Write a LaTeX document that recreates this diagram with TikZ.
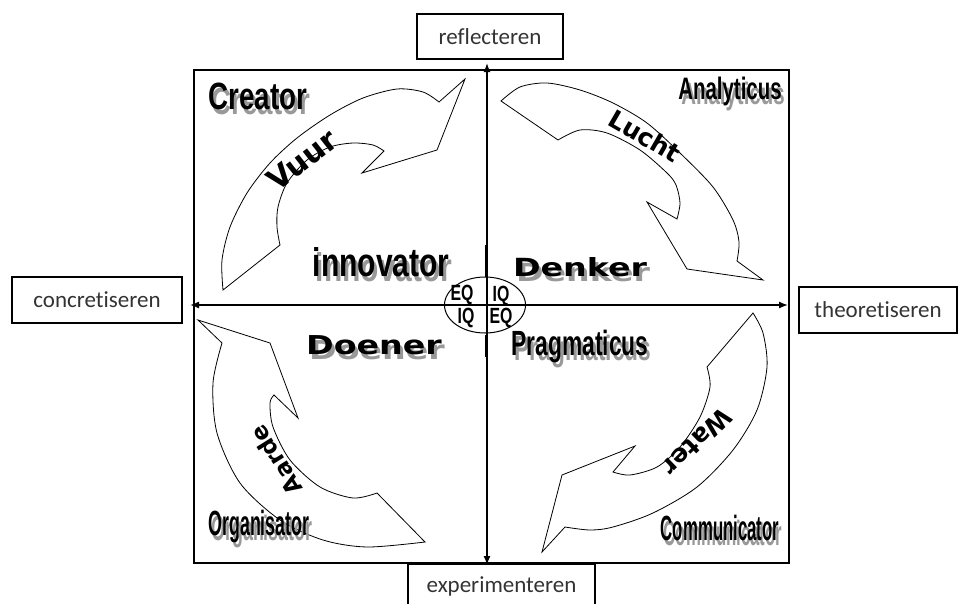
\documentclass[tikz,border=0pt]{standalone}
\usepackage{fontspec}
\usepackage{tikz}
\usetikzlibrary{calc,arrows.meta}
\setmainfont{Carlito}[Ligatures=NoCommon]
\newfontfamily\boldsans{Liberation Sans}
\newfontfamily\blacksans{DejaVu Sans}

\begin{document}
\begin{tikzpicture}[x=1pt,y=-1pt,
  quadframe/.style={line width=1.4pt},
  axisline/.style={line width=1.4pt, {Latex[length=9pt,width=7pt]}-{Latex[length=9pt,width=7pt]}},
  flow/.style={draw, line width=0.8pt, fill=white, line join=miter},
  pole/.style={draw, line width=1.1pt, inner sep=0pt, text=black!80, font=\fontsize{23}{23}\selectfont},
  element/.style={font=\blacksans\bfseries\fontsize{#1}{#1}\selectfont},
  quotient/.style={font=\boldsans\bfseries\fontsize{22}{22}\selectfont}]
  \useasboundingbox (0,0) rectangle (960,603);

  % text with a grey drop shadow: name, position, family, size, xscale, text
  \def\shadowed#1#2#3#4#5#6{%
    \node[font=#3\bfseries\fontsize{#4}{#4}\selectfont, text=black!40] (#1-shadow) at ($#2+(3,5)$) {\scalebox{#5}[1]{#6}};
    \node[font=#3\bfseries\fontsize{#4}{#4}\selectfont] (#1) at #2 {\scalebox{#5}[1]{#6}};}

  % frame
  \draw[quadframe] (194,70) rectangle (789,563);

  % top left: Vuur
  \draw[flow] plot[smooth] coordinates {(223,290) (222,260) (230,227) (247,193) (270,163) (297,138) (330,115) (363,98) (397,89) (423,92) (439,102)}
    -- (465,79) -- (437,150) -- (362,173) -- (384,151)
    -- plot[smooth] coordinates {(384,151) (373,145) (353,143) (330,147) (307,160) (287,183) (278,207) (277,227) (280,245)}
    -- cycle;

  % top right: Lucht
  \draw[flow] plot[smooth] coordinates {(501,101) (520,87) (547,83) (580,90) (613,103) (647,123) (680,153) (713,187) (733,220) (739,242) (737,261)}
    -- (763,280) -- (687,269) -- (647,202) -- (677,219)
    -- plot[smooth] coordinates {(677,219) (680,203) (676,185) (667,173) (640,150) (607,133) (580,130) (558,140)}
    -- cycle;

  % bottom right: Water
  \draw[flow] plot[smooth] coordinates {(753,313) (763,333) (767,367) (757,410) (733,450) (697,487) (653,513) (613,527) (590,530) (565,527)}
    -- (542,552) -- (562,475) -- (635,446) -- (613,472)
    -- plot[smooth] coordinates {(613,472) (630,475) (657,467) (680,447) (700,417) (710,387) (707,367)}
    -- cycle;

  % bottom left: Aarde
  \draw[flow] plot[smooth] coordinates {(425,542) (367,547) (323,540) (280,520) (240,483) (217,433) (213,383) (222,343)}
    -- (198,320) -- (270,343) -- (298,418) -- (274,395)
    -- plot[smooth] coordinates {(274,395) (270,403) (273,427) (290,460) (320,487) (353,498) (377,493)}
    -- cycle;

  \node[element=30, rotate=38] (vuur) at (302,160) {Vuur};
  \node[element=25, rotate=-30] (lucht) at (645,136) {Lucht};
  \node[element=25, rotate=-136] (water) at (697,442) {Water};
  \node[element=23, rotate=122] (aarde) at (276,460) {Aarde};

  % axes
  \coordinate (west) at (190,305);
  \coordinate (east) at (788,305);
  \coordinate (north) at (487,63);
  \coordinate (south) at (487,565);
  \draw[axisline] (west) -- (east);
  \draw[axisline] (north) -- (south);
  \draw[line width=2.2pt] (486,245) -- (486,277);
  \draw[line width=2.2pt] (486,335) -- (486,357);

  % centre: EQ / IQ
  \coordinate (core) at (485,305);
  \draw[line width=1pt] (core) ellipse [x radius=40.5, y radius=28];
  \node[quotient] (eq-nw) at (462,295) {\scalebox{0.72}[1]{EQ}};
  \node[quotient] (iq-ne) at (501,296) {\scalebox{0.72}[1]{IQ}};
  \node[quotient] (iq-sw) at (466,318) {\scalebox{0.72}[1]{IQ}};
  \node[quotient] (eq-se) at (501,318) {\scalebox{0.72}[1]{EQ}};

  % quadrant labels
  \shadowed{creator}{(258,96)}{\boldsans}{38}{0.73}{Creator}
  \shadowed{innovator}{(381,262)}{\boldsans}{40}{0.75}{innovator}
  \shadowed{analyticus}{(730,91)}{\boldsans}{31}{0.66}{Analyticus}
  \shadowed{denker}{(580,267)}{\blacksans}{25}{1.33}{Denker}
  \shadowed{doener}{(374,345)}{\blacksans}{26}{1.28}{Doener}
  \shadowed{pragmaticus}{(580,347)}{\boldsans}{35}{0.65}{Pragmaticus}
  \shadowed{organisator}{(259,527)}{\boldsans}{35}{0.51}{Organisator}
  \shadowed{communicator}{(720,528)}{\boldsans}{35}{0.48}{Communicator}

  % poles
  \node[pole, minimum width=146pt, minimum height=45pt] (reflect) at (490,36.5) {reflecteren};
  \node[pole, minimum width=170pt, minimum height=46pt] (concrete) at (97,300) {concretiseren};
  \node[pole, minimum width=158pt, minimum height=46pt] (theory) at (878,310) {theoretiseren};
  \node[pole, minimum width=187pt, minimum height=45pt] (experiment) at (501.5,586.5) {experimenteren};
\end{tikzpicture}
\end{document}
